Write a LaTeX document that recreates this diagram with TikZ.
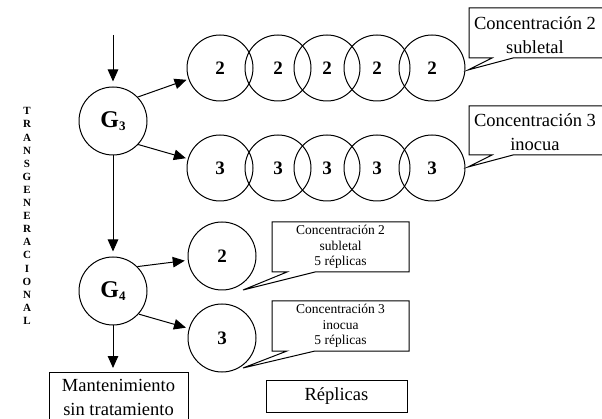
\documentclass[tikz,border=0pt]{standalone}
\usepackage{fontspec}
\setmainfont{Liberation Serif}
\usetikzlibrary{arrows.meta}
\tikzset{
  ln/.style={line width=1pt},
  arr/.style={ln,-{Triangle[length=12pt,width=10.5pt]}},
  rep/.style={circle,draw,ln,minimum size=66pt,inner sep=0pt,font=\fontsize{19}{20}\selectfont\bfseries},
  gen/.style={circle,draw,ln,minimum size=68pt,inner sep=0pt,font=\fontsize{24}{24}\selectfont\bfseries},
  bigtxt/.style={align=center,font=\fontsize{18.5}{24}\selectfont,inner sep=0pt},
  smalltxt/.style={align=center,font=\fontsize{13.5}{15.7}\selectfont,inner sep=0pt},
}
\begin{document}
\begin{tikzpicture}[x=1pt,y=-1pt]
\useasboundingbox (0,0) rectangle (602,419);
% side label
\node[align=center,font=\fontsize{11}{13.1}\selectfont\bfseries,inner sep=0pt] (side) at (27,216)
  {T\\R\\A\\N\\S\\G\\E\\N\\E\\R\\A\\C\\I\\O\\N\\A\\L};
% generations
\coordinate (start) at (113,35);
\node[gen] (G3) at (113,121) {G\raisebox{-3.5pt}{\fontsize{13}{13}\selectfont 3}};
\node[gen] (G4) at (113,291) {G\raisebox{-3.5pt}{\fontsize{13}{13}\selectfont 4}};
\node[draw,ln,minimum width=139pt,minimum height=60pt,anchor=north west] (mant) at (49,372) {};
\node[bigtxt] (manttxt) at (118.5,397) {Mantenimiento\\sin tratamiento};
% replicate rows
\foreach \x [count=\i] in {220,278,327,377,432}{
  \node[rep] (a\i) at (\x,68) {2};
  \node[rep] (b\i) at (\x,168) {3};
}
\node[rep,minimum size=68pt] (c2) at (222,256) {2};
\node[rep,minimum size=68pt] (c3) at (222,338) {3};
% arrows
\draw[arr,shorten >=5pt] (start) -- (G3);
\draw[arr,shorten >=5pt] (G3) -- (G4);
\draw[arr,shorten >=4pt] (G4) -- (G4 |- mant.north);
\draw[arr,shorten >=2pt] (G3.44) -- (a1);
\draw[arr,shorten >=2pt] (G3.-43) -- (b1);
\draw[arr,shorten >=3pt] (G4.45) -- (c2);
\draw[arr,shorten >=3pt] (G4.-42) -- (c3);
% callouts (top)
\draw[ln] (469,8) -- (604,8) -- (604,58) -- (513,58) -- (468,70) -- (492,58) -- (469,58) -- cycle;
\node[bigtxt] (t1) at (535,35) {Concentración 2\\subletal};
\draw[ln] (469,106) -- (604,106) -- (604,155) -- (513,155) -- (468,167) -- (492,155) -- (469,155) -- cycle;
\node[bigtxt] (t2) at (535,132) {Concentración 3\\inocua};
% callouts (bottom)
\draw[ln] (272,222) -- (409,222) -- (409,272) -- (315,272) -- (243,290) -- (287,272) -- (272,272) -- cycle;
\node[smalltxt] (t3) at (340.5,247) {Concentración 2\\subletal\\5 réplicas};
\draw[ln] (272,301) -- (409,301) -- (409,351) -- (315,351) -- (243,368) -- (287,351) -- (272,351) -- cycle;
\node[smalltxt] (t4) at (340.5,326) {Concentración 3\\inocua\\5 réplicas};
% legend
\node[draw,ln,minimum width=141pt,minimum height=32pt,inner sep=0pt,font=\fontsize{18.5}{20}\selectfont] (leg) at (336.5,396) {Réplicas};
\end{tikzpicture}
\end{document}
